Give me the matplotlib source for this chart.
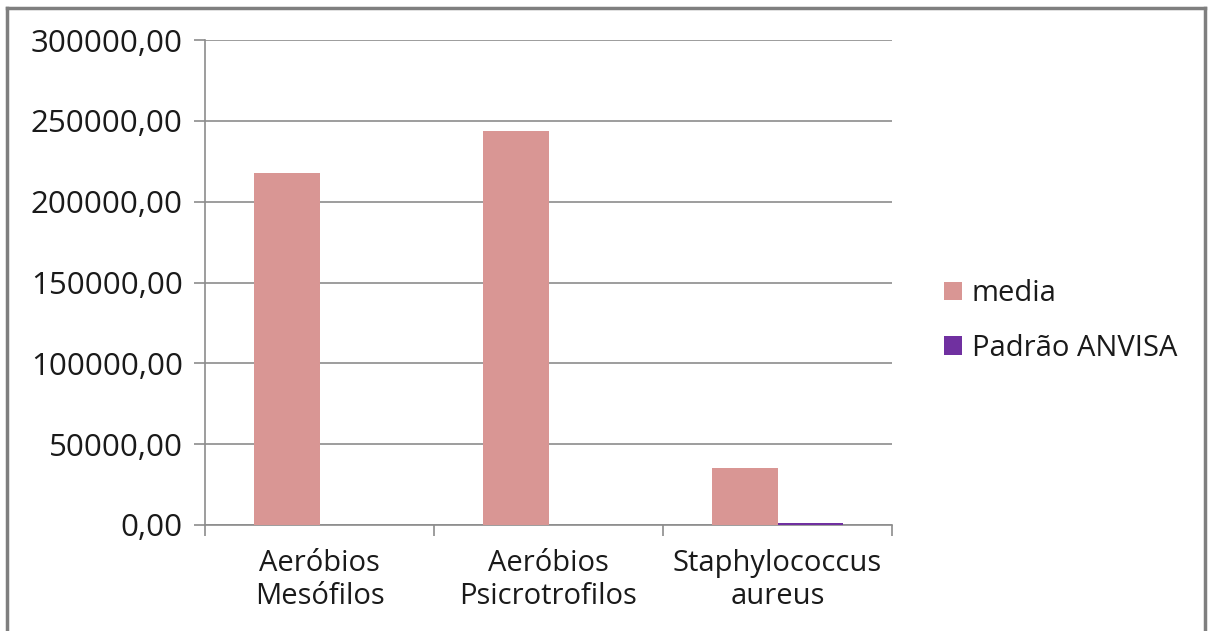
import numpy as np
import matplotlib.pyplot as plt
from matplotlib.ticker import FuncFormatter, FixedLocator

plt.rcParams['font.family'] = ['Open Sans', 'DejaVu Sans']

categorias = ["Aeróbios\nMesófilos", "Aeróbios\nPsicrotrofilos", "Staphylococcus\naureus"]
media = [218000, 243500, 35300]
padrao_anvisa = [0, 0, 1000]

cor_media = '#D99694'
cor_padrao = '#7030A0'
cinza = '#8C8C8C'

fig = plt.figure(figsize=(12.11, 6.31), dpi=100)
ax = fig.add_axes([205/1211, 1 - 525/631, (892-205)/1211, (525-40)/631])

x = np.arange(len(categorias))
largura = 0.288
b1 = ax.bar(x - largura/2, media, largura, color=cor_media, label='media', zorder=3)
b2 = ax.bar(x + largura/2, padrao_anvisa, largura, color=cor_padrao, label='Padrão ANVISA', zorder=3)

ax.set_xlim(-0.5, 2.5)
ax.set_ylim(0, 300000)
ax.set_yticks(np.arange(0, 300001, 50000))
ax.yaxis.set_major_formatter(FuncFormatter(lambda v, p: f"{v:.2f}".replace('.', ',')))
ax.grid(axis='y', color=cinza, linewidth=1.2, zorder=0)

# rótulos das categorias no meio, marcas nas divisões
ax.set_xticks(x)
ax.set_xticklabels(categorias, fontsize=21, linespacing=1.22, color='#1a1a1a')
ax.tick_params(axis='x', length=0, pad=17)
ax.xaxis.set_minor_locator(FixedLocator([-0.5, 0.5, 1.5, 2.5]))
ax.tick_params(axis='x', which='minor', length=8, color=cinza, width=1.2)
ax.tick_params(axis='y', length=8, color=cinza, width=1.2, labelsize=22.5, pad=8,
               labelcolor='#1a1a1a')

for lado in ['top', 'right']:
    ax.spines[lado].set_visible(False)
for lado in ['left', 'bottom']:
    ax.spines[lado].set_color(cinza)
    ax.spines[lado].set_linewidth(1.2)

fig.legend(handles=[b1, b2], loc='center left', bbox_to_anchor=(918/1211, 1 - 321/631),
           frameon=False, fontsize=21, handlelength=0.6, handleheight=0.6,
           handletextpad=0.35, labelspacing=0.88, labelcolor='#1a1a1a')

# moldura externa
fig.add_artist(plt.Line2D([7/1211, 7/1211], [0, 1 - 8/631], color='#7F7F7F', linewidth=2.5))
fig.add_artist(plt.Line2D([7/1211, 1205/1211], [1 - 8/631, 1 - 8/631], color='#7F7F7F', linewidth=2.5))
fig.add_artist(plt.Line2D([1205/1211, 1205/1211], [0, 1 - 8/631], color='#7F7F7F', linewidth=2.5))

fig.savefig('out.png', dpi=100)
